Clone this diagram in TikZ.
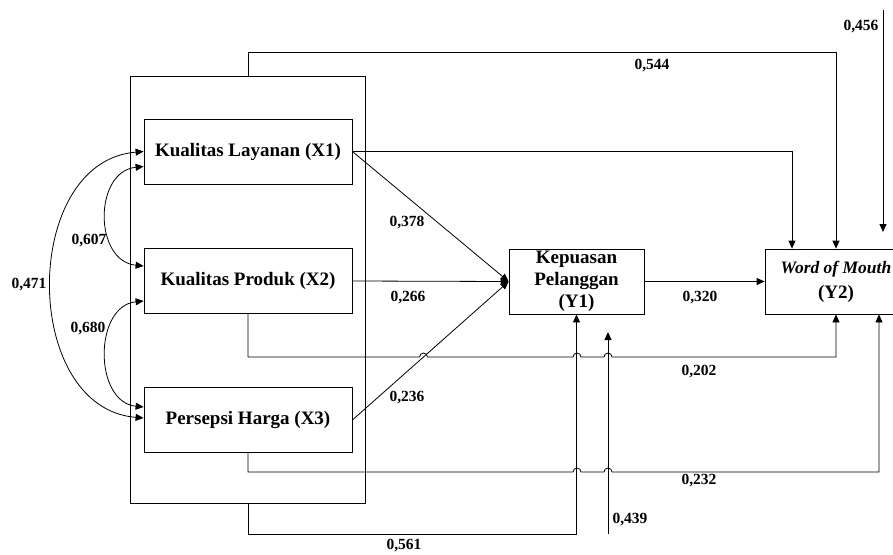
\documentclass[tikz,border=0pt]{standalone}
\usepackage{fontspec}
\setmainfont{Liberation Serif}
\usetikzlibrary{arrows.meta}
\begin{document}
\begin{tikzpicture}[x=1pt, y=-1pt, line width=0.8pt,
  vbox/.style={draw,inner sep=0pt,minimum width=208pt,minimum height=65pt,align=center,
    font=\bfseries\fontsize{19}{22}\selectfont},
  ybox/.style={vbox,minimum width=135pt},
  lbl/.style={font=\bfseries\fontsize{15.5}{17}\selectfont,inner sep=1pt},
  pth/.style={-{Triangle[length=8pt,width=7pt]}},
  cov/.style={{Triangle[length=8pt,width=7pt]}-{Triangle[length=8pt,width=7pt]}}]
\clip (0,0) rectangle (893,554);
% variables
\node[draw,inner sep=0pt,minimum width=235pt,minimum height=427pt] (blok) at (248,289.5) {};
\node[vbox] (x1) at (248,151.5) {Kualitas Layanan (X1)};
\node[vbox] (x2) at (248,281) {Kualitas Produk (X2)};
\node[vbox] (x3) at (248,420) {Persepsi Harga (X3)};
\node[ybox] (y1) at (576.5,281.5) {Kepuasan\\Pelanggan\\(Y1)};
\node[ybox,minimum width=142pt,font=\bfseries\fontsize{17.5}{22}\selectfont] (y2) at (836,281.5)
  {\textit{Word of Mouth}\\[3pt]{\fontsize{19}{22}\selectfont(Y2)}};
% error terms
\coordinate (e1a) at (608,534); \coordinate (e1b) at (608,332);
\coordinate (e2a) at (883,10);  \coordinate (e2b) at (883,232);
% paths to Y1
\draw[pth] (x1.east) -- (y1.west);
\draw[pth] (x2.east) -- (y1.west);
\draw[pth] (x3.east) -- (y1.west);
\draw[pth] (y1.east) -- (y2.west);
% paths to Y2
\draw[pth] (blok.north) -- ++(0,-23) -| (y2.north);
\draw[pth] (x1.east) -| ([xshift=-44pt]y2.north);
\draw[pth] (x2.south) |- (419.5,357) arc[start angle=180,end angle=0,radius=4pt]
  -- (573,357) arc[start angle=180,end angle=0,radius=4pt]
  -- (604,357) arc[start angle=180,end angle=0,radius=4pt] -| (y2.south);
\draw[pth] (x3.south) |- (573,472) arc[start angle=180,end angle=0,radius=4pt]
  -- (604,472) arc[start angle=180,end angle=0,radius=4pt] -| ([xshift=43pt]y2.south);
\draw[pth] (blok.south) -- ++(0,31) -| (y1.south);
\draw[pth] (e1a) -- (e1b);
\draw[pth] (e2a) -- (e2b);
% correlations
\draw[cov] ([yshift=-15pt]x1.west) .. controls +(-50,5) and +(-50,-5) .. ([yshift=15pt]x2.west);
\draw[cov] ([yshift=-20pt]x2.west) .. controls +(-50,5) and +(-50,-5) .. ([yshift=13pt]x3.west);
\draw[cov] (x1.west) .. controls +(-123,10) and +(-123,-10) .. ([yshift=2pt]x3.west);
% coefficients
\node[lbl] (l456) at (861,27) {0,456};
\node[lbl] (l544) at (652,66) {0,544};
\node[lbl] (l378) at (407,223) {0,378};
\node[lbl] (l607) at (89,241) {0,607};
\node[lbl] (l471) at (29,285) {0,471};
\node[lbl] (l266) at (408,298) {0,266};
\node[lbl] (l320) at (700,298) {0,320};
\node[lbl] (l680) at (88,329) {0,680};
\node[lbl] (l202) at (699,372) {0,202};
\node[lbl] (l236) at (407,398) {0,236};
\node[lbl] (l232) at (699,481) {0,232};
\node[lbl] (l439) at (630,520) {0,439};
\node[lbl] (l561) at (404,546) {0,561};
\end{tikzpicture}
\end{document}
